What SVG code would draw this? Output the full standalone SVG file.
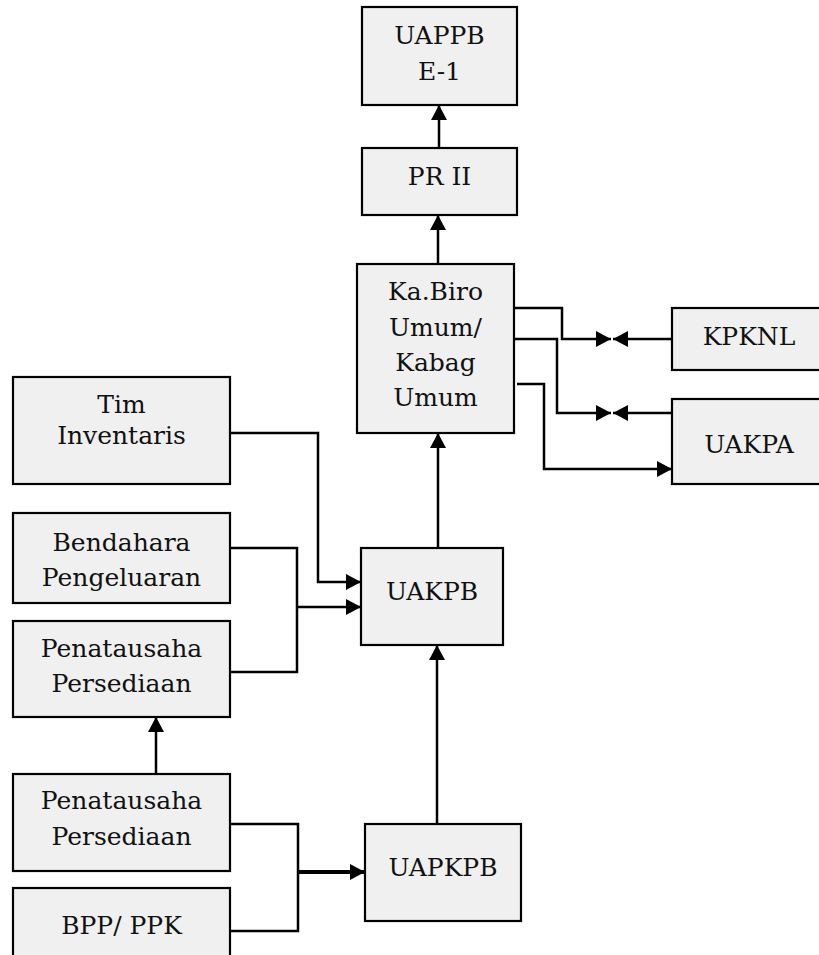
<svg xmlns="http://www.w3.org/2000/svg" width="819" height="955" viewBox="0 0 819 955">
  <style>
    .box rect { fill: #f0f0f0; stroke: #000; stroke-width: 2.2; }
    .box text { font-family: "DejaVu Serif", "Liberation Serif", serif; font-size: 25px; fill: #111; text-anchor: middle; }
    .links path { fill: none; stroke: #000; stroke-width: 2.5; }
    .links path.thick { stroke-width: 4; }
  </style>
  <defs>
    <marker id="arrow" viewBox="0 0 15 16" refX="15" refY="8" markerWidth="15" markerHeight="16" markerUnits="userSpaceOnUse" orient="auto">
      <path d="M0,0 L15,8 L0,16 z" fill="#000"/>
    </marker>
  </defs>

  <!-- connectors -->
  <g id="connectors" class="links">
    <path d="M439,148 V105" marker-end="url(#arrow)"/>
    <path d="M438,264 V215" marker-end="url(#arrow)"/>
    <path d="M438,548 V433" marker-end="url(#arrow)"/>
    <path d="M437,824 V645" marker-end="url(#arrow)"/>
    <path d="M514,308 H562 V339 H611" marker-end="url(#arrow)"/>
    <path d="M672,339 H613" marker-end="url(#arrow)"/>
    <path d="M514,339 H557 V413 H611" marker-end="url(#arrow)"/>
    <path d="M672,413 H613" marker-end="url(#arrow)"/>
    <path d="M517,384 H544 V469 H672" marker-end="url(#arrow)"/>
    <path d="M230,433 H318 V582 H361" marker-end="url(#arrow)"/>
    <path d="M230,548 H297 V672 H230"/>
    <path d="M297,607 H361" marker-end="url(#arrow)"/>
    <path d="M230,824 H298 V931 H230"/>
    <path class="thick" d="M298,872 H365" marker-end="url(#arrow)"/>
    <path d="M156,774 V717" marker-end="url(#arrow)"/>
  </g>

  <!-- nodes -->
  <g id="uappb" class="box">
    <rect x="362" y="7" width="155" height="98"/>
    <text x="439.5" y="44">UAPPB</text>
    <text x="439.5" y="80">E-1</text>
  </g>
  <g id="pr2" class="box">
    <rect x="362" y="148" width="155" height="67"/>
    <text x="439.5" y="185">PR II</text>
  </g>
  <g id="kabiro" class="box">
    <rect x="357" y="264" width="157" height="169"/>
    <text x="435.5" y="300">Ka.Biro</text>
    <text x="435.5" y="336">Umum/</text>
    <text x="435.5" y="371">Kabag</text>
    <text x="435.5" y="406">Umum</text>
  </g>
  <g id="kpknl" class="box">
    <rect x="672" y="308" width="154" height="62"/>
    <text x="749" y="345">KPKNL</text>
  </g>
  <g id="uakpa" class="box">
    <rect x="672" y="399" width="154" height="85"/>
    <text x="749" y="453">UAKPA</text>
  </g>
  <g id="tim-inventaris" class="box">
    <rect x="13" y="377" width="217" height="107"/>
    <text x="121.5" y="413">Tim</text>
    <text x="121.5" y="444">Inventaris</text>
  </g>
  <g id="bendahara" class="box">
    <rect x="13" y="513" width="217" height="90"/>
    <text x="121.5" y="551">Bendahara</text>
    <text x="121.5" y="586">Pengeluaran</text>
  </g>
  <g id="penatausaha-1" class="box">
    <rect x="13" y="621" width="217" height="96"/>
    <text x="121.5" y="657">Penatausaha</text>
    <text x="121.5" y="692">Persediaan</text>
  </g>
  <g id="penatausaha-2" class="box">
    <rect x="13" y="774" width="217" height="97"/>
    <text x="121.5" y="809">Penatausaha</text>
    <text x="121.5" y="845">Persediaan</text>
  </g>
  <g id="bpp-ppk" class="box">
    <rect x="13" y="888" width="217" height="80"/>
    <text x="121.5" y="934">BPP/ PPK</text>
  </g>
  <g id="uakpb" class="box">
    <rect x="361" y="548" width="142" height="97"/>
    <text x="432" y="600">UAKPB</text>
  </g>
  <g id="uapkpb" class="box">
    <rect x="365" y="824" width="156" height="97"/>
    <text x="443" y="876">UAPKPB</text>
  </g>
</svg>
